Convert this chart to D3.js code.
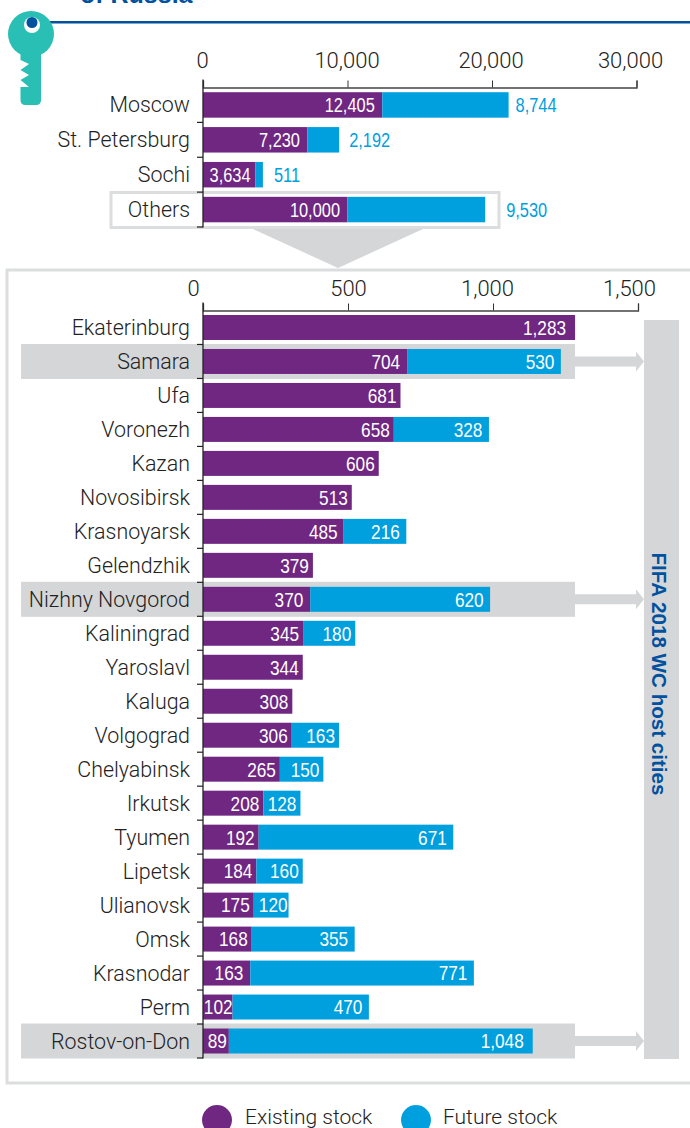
<!DOCTYPE html>
<html><head><meta charset="utf-8"><script src="https://cdnjs.cloudflare.com/ajax/libs/d3/7.8.5/d3.min.js"></script>
<style>html,body{margin:0;padding:0;background:#fff}svg{display:block}</style></head><body>
<svg id="c" width="690" height="1128"></svg>
<script>
const topCities=["Moscow","St. Petersburg","Sochi","Others"];
const topExisting=[12405,7230,3634,10000];
const topFuture=[8744,2192,511,9530];
const topTicks=[0,10000,20000,30000];
const cities=["Ekaterinburg","Samara","Ufa","Voronezh","Kazan","Novosibirsk","Krasnoyarsk","Gelendzhik","Nizhny Novgorod","Kaliningrad","Yaroslavl","Kaluga","Volgograd","Chelyabinsk","Irkutsk","Tyumen","Lipetsk","Ulianovsk","Omsk","Krasnodar","Perm","Rostov-on-Don"];
const existing=[1283,704,681,658,606,513,485,379,370,345,344,308,306,265,208,192,184,175,168,163,102,89];
const future=[0,530,0,328,0,0,216,0,620,180,0,0,163,150,128,671,160,120,355,771,470,1048];
const lowTicks=[0,500,1000,1500];
const hostCities=["Samara","Nizhny Novgorod","Rostov-on-Don"];
const legendItems=["Existing stock","Future stock"];
const PURPLE="#6f2782",BLUE="#009fde",GREY="#d5d6d8",NAVY="#00519e",TEXT="#222";
const LABEL='Roboto,"Liberation Sans",sans-serif',NARROW='"Liberation Sans",sans-serif';
const fmt=d3.format(",");
const svg=d3.select("#c");

svg.append("text").attr("x",80).attr("y",3).attr("font-family",'"Liberation Sans",sans-serif').attr("font-weight",700).attr("font-size",25).attr("fill",NAVY).text("of Russia");
svg.append("rect").attr("x",50).attr("y",21).attr("width",640).attr("height",2.5).attr("fill",NAVY);
const key=svg.append("g");
key.append("path").attr("fill","#29bfb4").attr("d","M20.5 50 L41 50 L41 100 Q41 105 36 105 L25.5 105 Q20.5 105 20.5 100 L20.5 87 L29 87 L20.5 80 L29 75 L20.5 70 L29 64 L20.5 60 Z");
key.append("circle").attr("cx",31).attr("cy",34).attr("r",23).attr("fill","#29bfb4");
key.append("circle").attr("cx",32).attr("cy",25).attr("r",8).attr("fill","#fff");
key.append("circle").attr("cx",32).attr("cy",22.5).attr("r",5.5).attr("fill",NAVY);

svg.append("polygon").attr("points","253,229 423,229 338,268").attr("fill",GREY);
svg.append("rect").attr("x",111).attr("y",192.5).attr("width",388).attr("height",35).attr("fill","#fff").attr("stroke","#dcddde").attr("stroke-width",3);
svg.append("rect").attr("x",7).attr("y",270).attr("width",700).attr("height",813).attr("fill","#fff").attr("stroke","#dcddde").attr("stroke-width",3);

function chart(cats,ex,fu,ticks,maxV,y0,y1,opts){
  const x=d3.scaleLinear().domain([0,maxV]).range([203,opts.xEnd]);
  const y=d3.scaleBand().domain(cats).range([y0,y1]).paddingInner(opts.pad).paddingOuter(opts.pad/2);
  const g=svg.append("g");
  g.selectAll("rect.hl").data(cats.filter(c=>hostCities.includes(c))).join("rect").attr("class","hl")
    .attr("x",21).attr("width",554).attr("y",c=>y(c)+y.bandwidth()/2-17.5).attr("height",35).attr("fill",GREY);
  g.selectAll("path.arrow").data(cats.filter(c=>hostCities.includes(c))).join("path").attr("class","arrow")
    .attr("fill",GREY).attr("d",c=>{const m=y(c)+y.bandwidth()/2;return `M575 ${m-5}L636 ${m-5}L636 ${m-10}L644 ${m}L636 ${m+10}L636 ${m+5}L575 ${m+5}Z`;});
  const rows=cats.map((c,i)=>({c,e:ex[i],f:fu[i]}));
  g.selectAll("rect.e").data(rows).join("rect").attr("class","e").attr("x",x(0)).attr("y",d=>y(d.c)).attr("height",y.bandwidth()).attr("width",d=>x(d.e)-x(0)).attr("fill",PURPLE);
  g.selectAll("rect.f").data(rows.filter(d=>d.f>0)).join("rect").attr("class","f").attr("x",d=>x(d.e)).attr("y",d=>y(d.c)).attr("height",y.bandwidth()).attr("width",d=>x(d.e+d.f)-x(d.e)).attr("fill",BLUE);
  const val=(sel,px)=>sel.attr("font-family",NARROW).attr("font-size",21).attr("dy","0.35em")
    .attr("transform",d=>`translate(${px(d)},${y(d.c)+y.bandwidth()/2}) scale(${opts.sx},1)`);
  val(g.selectAll("text.ve").data(rows).join("text").attr("class","ve"),d=>x(d.e)-opts.exGap(d))
    .attr("text-anchor","end").attr("fill","#fff").text(d=>fmt(d.e));
  val(g.selectAll("text.vf").data(rows.filter(d=>d.f>0)).join("text").attr("class","vf"),d=>opts.outside?x(d.e+d.f)+opts.fGap(d):x(d.e+d.f)-opts.fGap(d))
    .attr("text-anchor",opts.outside?"start":"end").attr("fill",opts.outside?BLUE:"#fff").text(d=>fmt(d.f));
  g.selectAll("text.cat").data(cats).join("text").attr("class","cat").attr("x",190).attr("y",c=>y(c)+y.bandwidth()/2).attr("dy","0.35em")
    .attr("text-anchor","end").attr("font-family",LABEL).attr("font-weight",300).attr("font-size",21.4).attr("fill",TEXT).text(c=>c);
  const ax=g.append("g").attr("transform",`translate(0,${y0})`).call(d3.axisTop(x).tickValues(ticks).tickFormat(fmt).tickSizeOuter(0).tickSize(7));
  ax.select(".domain").attr("stroke","#444").attr("stroke-width",1.3);
  ax.selectAll(".tick line").attr("stroke","#333");
  ax.selectAll(".tick text").attr("font-family",LABEL).attr("font-weight",300).attr("font-size",22).attr("fill",TEXT).attr("dy",0).attr("y",opts.tickY)
    .attr("dx",(d,i)=>opts.dx[i]);
  const yl=g.append("g");
  yl.append("line").attr("x1",203).attr("x2",203).attr("y1",y0-8).attr("y2",y1+0.5).attr("stroke","#222").attr("stroke-width",1.3);
  yl.selectAll("line.t").data(d3.range(cats.length).map(i=>y(cats[i])+y.bandwidth()+y.step()*y.paddingOuter())).join("line").attr("class","t")
    .attr("x1",197).attr("x2",203).attr("y1",d=>d).attr("y2",d=>d).attr("stroke","#222").attr("stroke-width",1.2);
}
svg.append("rect").attr("x",644).attr("y",320).attr("width",35).attr("height",739).attr("fill",GREY);
chart(topCities,topExisting,topFuture,topTicks,30000,87.5,227,{xEnd:636.5,pad:0.27,outside:true,tickY:-20,dx:[-1,-1,-1.5,-6.5],sx:0.78,
  exGap:d=>d.e<4000?5:7.5,fGap:d=>d.c==="Others"?21:d.f<1000?11:d.f<3000?10:7});
const wideGap={704:7,370:7,485:6,163:7,1283:9};
chart(cities,existing,future,lowTicks,1500,310.5,1058,{xEnd:638,pad:0.265,outside:false,tickY:-15,dx:[-10,0,-6,-9],sx:0.82,
  exGap:d=>wideGap[d.e]??(d.e===102?0:d.e<110?2:4),fGap:d=>d.f>=1000?9:d.f<=120?1:d.f<200?4:6.5});
svg.append("text").attr("transform","translate(652,674) rotate(90)").attr("text-anchor","middle").attr("font-family",'"Liberation Sans",sans-serif').attr("font-weight",700).attr("font-size",20.6).attr("fill",NAVY).text("FIFA 2018 WC host cities");

const lg=svg.append("g").selectAll("g").data(legendItems).join("g");
lg.append("circle").attr("cx",(d,i)=>[217,416][i]).attr("cy",1120).attr("r",15).attr("fill",(d,i)=>[PURPLE,BLUE][i]);
lg.append("text").attr("x",(d,i)=>[245,443][i]).attr("y",1123.5).attr("font-family",LABEL).attr("font-weight",300).attr("font-size",21).attr("fill",TEXT).text(d=>d);
</script></body></html>
